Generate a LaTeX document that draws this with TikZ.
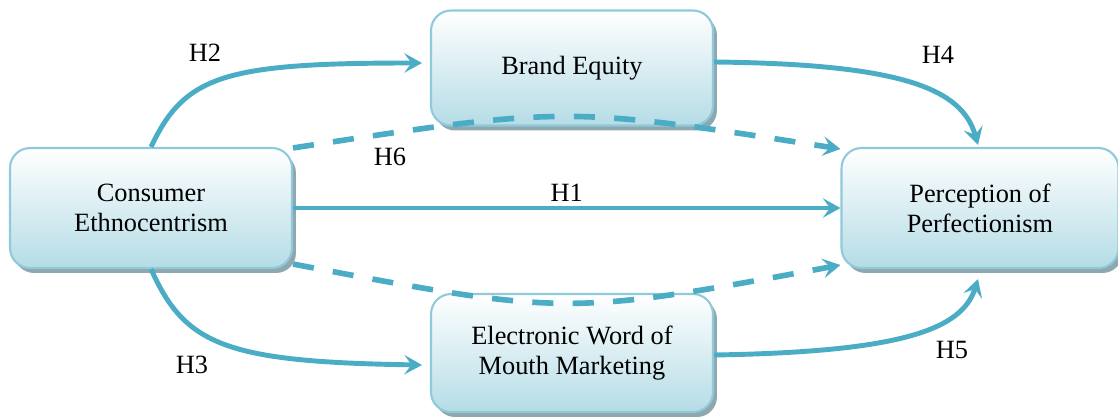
\documentclass[tikz,border=0pt]{standalone}
\usepackage{fontspec}
\setmainfont{Liberation Serif}
\newfontfamily\diagfont{Liberation Serif}
\usetikzlibrary{arrows.meta,shadows,calc}

\definecolor{linkblue}{HTML}{4BACC6}
\definecolor{boxedge}{HTML}{8FCADA}
\definecolor{boxfill}{HTML}{B5DCE6}
\definecolor{boxshade}{HTML}{8FA7AE}

\begin{document}
\begin{tikzpicture}[
    x=0.02cm, y=-0.02cm,
    box/.style={rectangle, draw=boxedge, line width=1.2pt, rounded corners=0.4cm,
        top color=white, bottom color=boxfill, minimum width=5.64cm, minimum height=2.4cm,
        align=center, font=\diagfont\fontsize{15}{17}\selectfont,
        drop shadow={shadow xshift=0.08cm, shadow yshift=-0.1cm, fill=boxshade, opacity=1}},
    arrow/.style={-{Stealth[length=10pt, width=11pt, inset=4pt]}, draw=linkblue, line width=2.8pt},
    dashedarrow/.style={arrow, line width=3.2pt, dash pattern=on 12pt off 11pt},
    label/.style={font=\diagfont\fontsize{15}{17}\selectfont}
]
\useasboundingbox (0,0) rectangle (1118,418);

% Constructs
\node[box] (ce) at (151,208) {Consumer\\Ethnocentrism};
\node[box, minimum height=2.3cm] (be) at (572,68) {Brand Equity};
\node[box, minimum width=5.54cm] (pp) at (980,208) {Perception of\\Perfectionism};
\node[box, minimum height=2.36cm] (ewom) at (572,353) {Electronic Word of\\Mouth Marketing};

% Direct effect
\draw[arrow] (ce.east) -- node[label, above=-1pt] {H1} (pp.west);

% Paths through brand equity
\draw[arrow] (ce.north) .. controls (185,75) and (225,63) .. ($(be.west)+(-8,-5)$);
\node[label] (h2) at (205,53) {H2};
\draw[arrow] ($(be.east)+(0,-6)$) .. controls (900,64) and (962,88) .. ($(pp.north)+(-2,-2)$);
\node[label] (h4) at (938,55) {H4};

% Paths through eWOM
\draw[arrow] (ce.south) .. controls (185,345) and (225,362) .. ($(ewom.west)+(-8,12)$);
\node[label] (h3) at (192,365) {H3};
\draw[arrow] ($(ewom.east)+(0,2)$) .. controls (900,352) and (962,330) .. ($(pp.south)+(-2,10)$);
\node[label] (h5) at (952,350) {H5};

% Indirect (dashed) paths
\draw[dashedarrow] ($(ce.north east)+(0,1)$) .. controls (566,106) .. ($(pp.north west)+(0,2)$);
\node[label] (h6) at (390,157) {H6};
\draw[dashedarrow] ($(ce.south east)+(0,-5)$) .. controls (566,316) .. ($(pp.south west)+(0,-4)$);

\end{tikzpicture}
\end{document}
